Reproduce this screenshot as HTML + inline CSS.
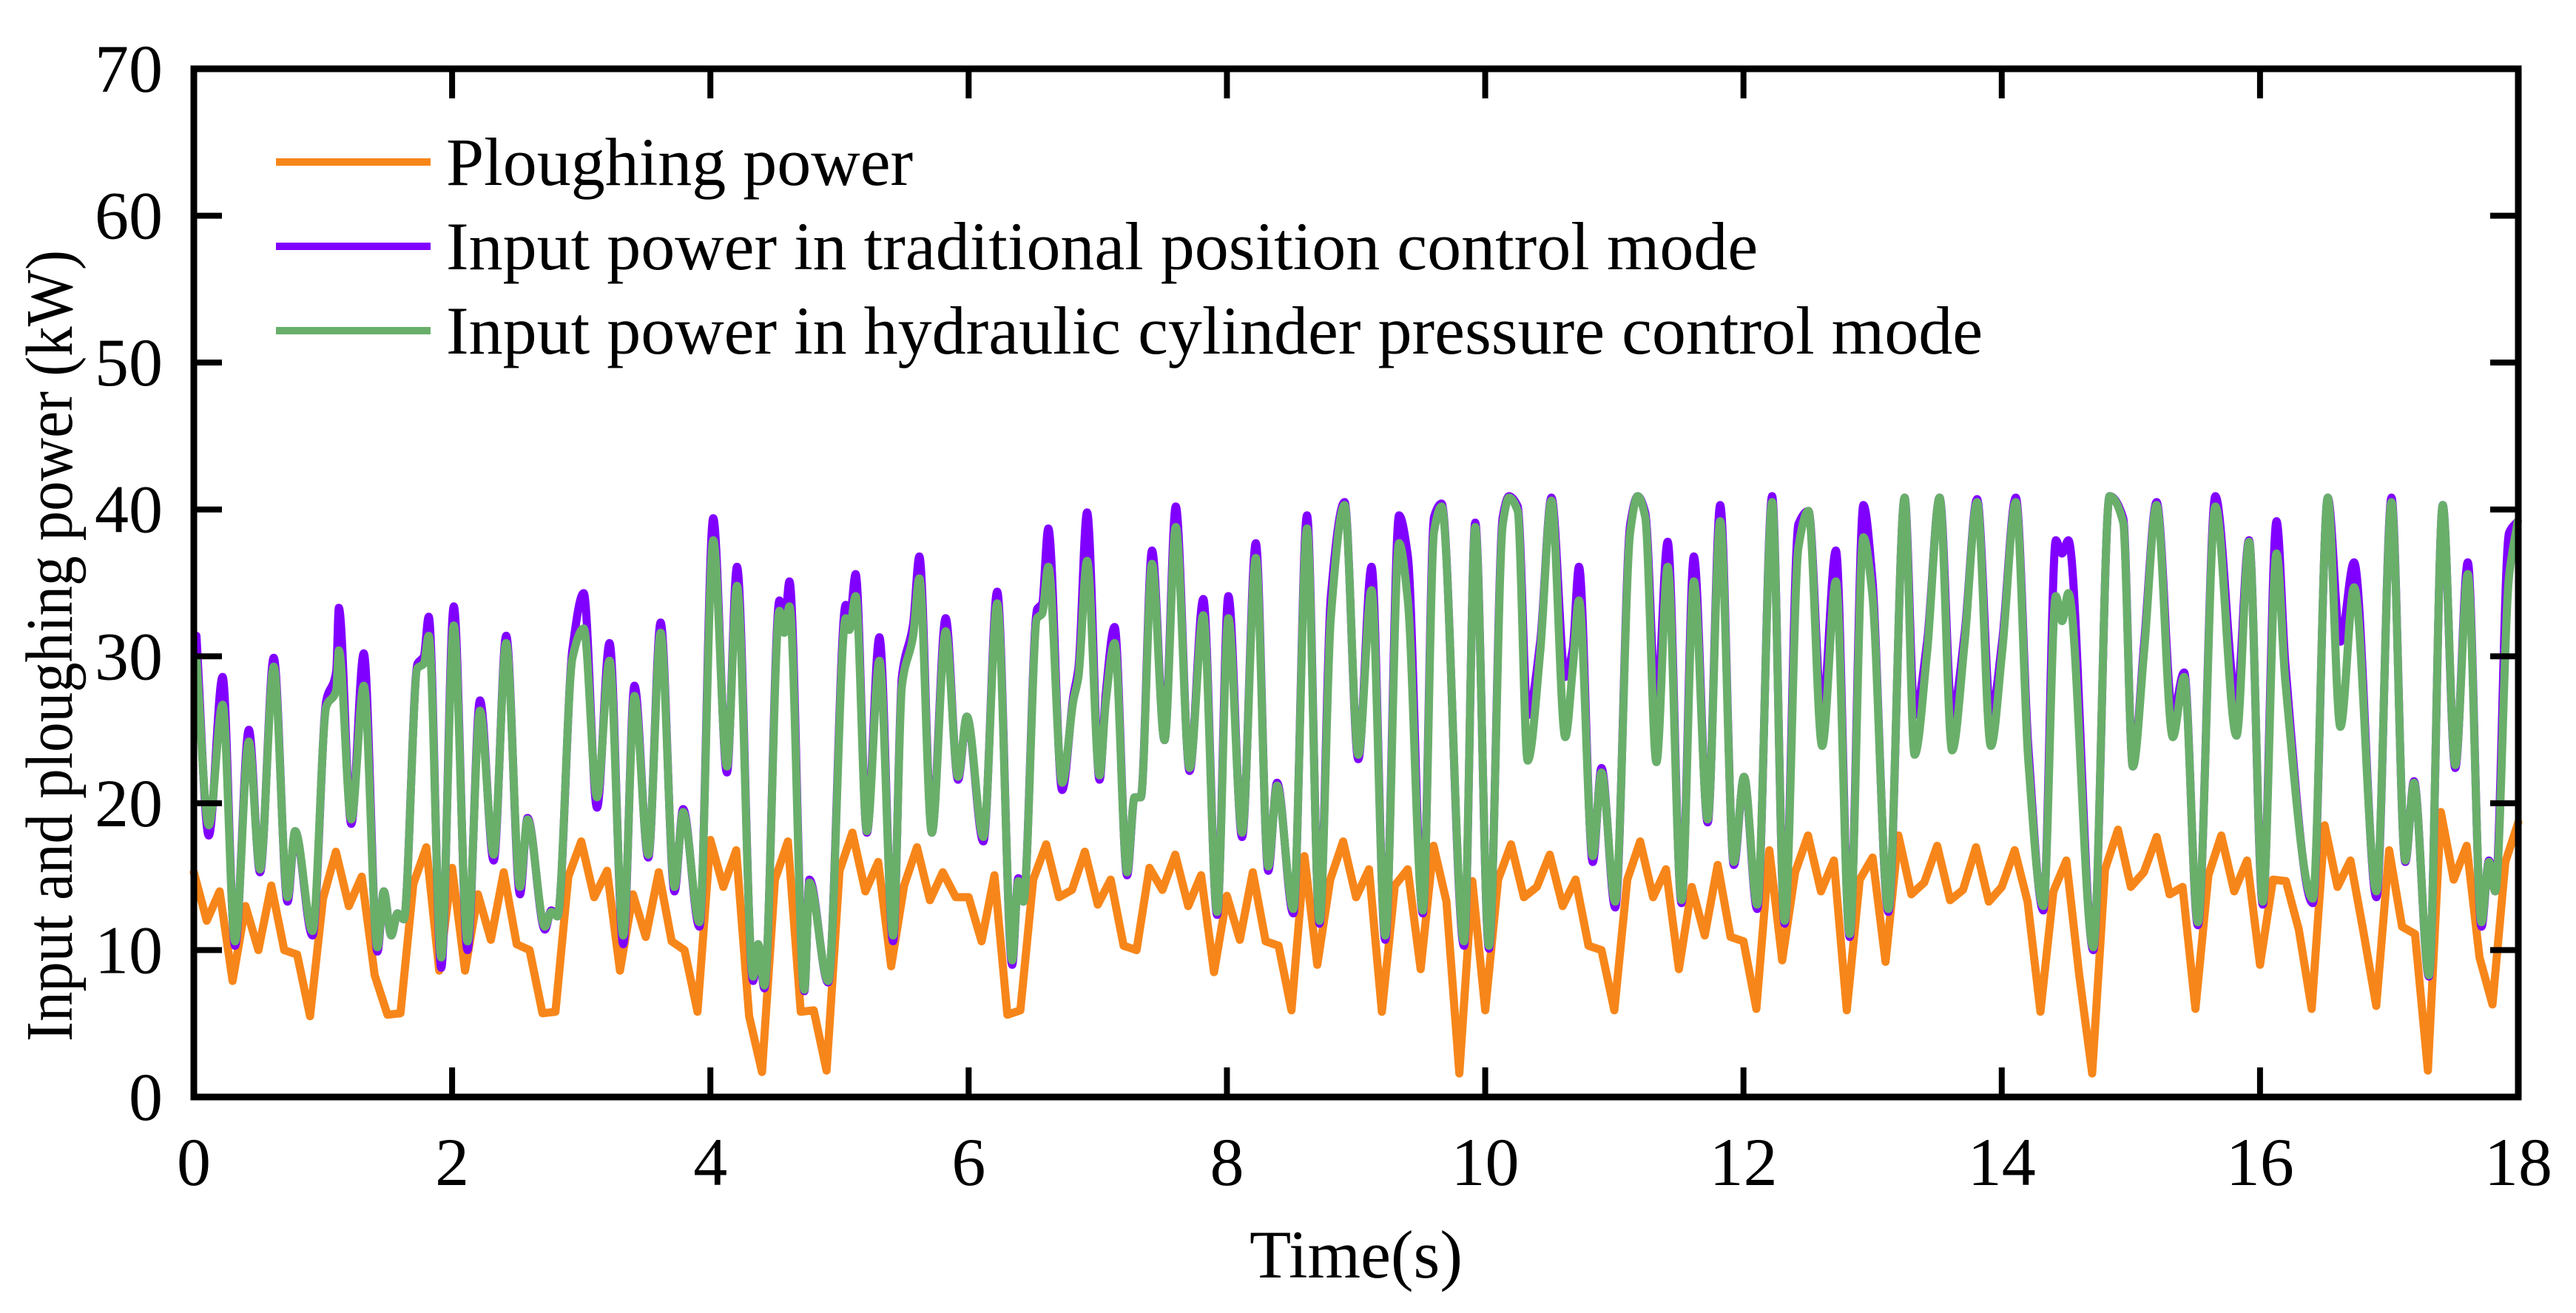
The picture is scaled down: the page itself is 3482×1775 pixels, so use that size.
<!DOCTYPE html>
<html><head><meta charset="utf-8">
<style>
html,body{margin:0;padding:0;background:#fff;}
svg{display:block;font-family:"Liberation Serif","Times New Roman",serif;}
</style></head>
<body>
<svg id="chart" width="3482" height="1775" viewBox="0 0 3482 1775" xmlns="http://www.w3.org/2000/svg">
  <rect x="0" y="0" width="3482" height="1775" fill="#fff"/>
  <g id="series"></g>
  <g id="axes"></g>
  <text x="1833" y="1727" font-size="92" text-anchor="middle">Time(s)</text>
  <text transform="translate(97,873) rotate(-90)" font-size="90" text-anchor="middle" textLength="1070" lengthAdjust="spacingAndGlyphs">Input and ploughing power (kW)</text>
  <g>
    <g>
      <line x1="373" y1="219" x2="582" y2="219" stroke="#F7861A" stroke-width="10"/>
      <text x="603" y="250" font-size="92">Ploughing power</text>
    </g>
    <g>
      <line x1="373" y1="333" x2="582" y2="333" stroke="#8000FF" stroke-width="10"/>
      <text x="603" y="364" font-size="92">Input power in traditional position control mode</text>
    </g>
    <g>
      <line x1="373" y1="447" x2="582" y2="447" stroke="#69AF6A" stroke-width="10"/>
      <text x="603" y="478" font-size="92">Input power in hydraulic cylinder pressure control mode</text>
    </g>
  </g>
</svg>
<script>
const xTicks = [0,2,4,6,8,10,12,14,16,18];
const yTicks = [0,10,20,30,40,50,60,70];
// Ploughing power sampled every 0.1 s from 0 to 18 s
const ploughStep = 0.1;
const ploughValues = [
15.3,12.0,14.0,7.9,13.0,10.0,14.4,10.0,9.7,5.5,13.5,16.7,13.0,15.0,8.3,5.6,5.7,14.5,17.0,8.6,15.6,8.6,13.8,10.7,15.3,10.4,10.0,5.7,5.8,15.0,17.4,
13.6,15.4,8.6,13.8,10.9,15.3,10.6,10.0,5.8,17.5,14.3,16.8,5.5,1.7,14.8,17.4,5.8,5.9,1.8,15.4,18.0,14.0,16.0,8.9,14.4,17.0,13.4,15.3,13.6,13.6,
10.6,15.1,5.6,5.9,14.8,17.2,13.6,14.1,16.7,13.1,14.8,10.3,10.0,15.6,14.1,16.5,13.0,15.1,8.5,13.7,10.7,15.3,10.6,10.3,5.9,16.4,9.0,14.8,17.4,13.6,
15.5,5.8,14.4,15.5,8.7,17.1,13.3,1.6,14.7,5.9,14.8,17.2,13.6,14.3,16.5,13.0,14.8,10.3,10.0,5.9,14.8,17.4,13.6,15.5,8.7,14.3,11.0,15.8,10.9,10.6,
6.0,16.8,9.3,15.3,17.8,14.0,16.1,5.9,14.8,16.3,9.2,17.8,13.8,14.6,17.1,13.4,14.1,17.0,13.3,14.3,16.8,13.3,5.8,14.0,16.1,8.3,1.6,15.5,18.2,14.3,
15.3,17.7,13.8,14.3,6.0,15.1,17.8,14.0,16.1,9.0,14.8,14.7,11.4,6.0,18.5,14.3,16.1,11.3,6.2,16.8,11.6,11.1,1.8,19.4,14.8,17.1,9.5,6.3,16.0,18.7
];
// Input power curves: sample times (s) and values (kW)
const inputTimes = [
0.02,0.116,0.223,0.319,0.426,0.513,0.619,0.726,0.784,0.919,1.026,1.103,1.123,1.219,1.316,1.422,1.471,1.529,1.577,1.626,1.732,1.781,1.819,1.916,2.013,2.119,2.216,2.322,2.419,2.526,2.584,2.719,2.768,2.816,2.932,3.019,
3.122,3.219,3.325,3.412,3.519,3.615,3.722,3.789,3.915,4.022,4.128,4.206,4.331,4.370,4.418,4.535,4.573,4.612,4.728,4.767,4.912,5.048,5.077,5.125,5.212,5.309,5.415,5.483,5.570,5.618,5.715,5.822,5.918,5.986,
6.114,6.221,6.337,6.385,6.424,6.530,6.569,6.617,6.724,6.811,6.850,6.917,7.014,7.062,7.130,7.227,7.285,7.333,7.420,7.517,7.604,7.711,7.817,7.924,8.011,8.117,8.224,8.320,8.388,8.514,8.620,8.717,8.804,8.911,9.017,
9.120,9.226,9.333,9.400,9.517,9.604,9.662,9.836,9.923,10.029,10.136,10.184,10.252,10.329,10.426,10.513,10.620,10.678,10.726,10.833,10.900,11.007,11.123,11.181,11.239,11.326,11.413,11.520,11.616,11.723,11.820,11.926,12.004,
12.106,12.222,12.319,12.425,12.503,12.609,12.716,12.822,12.929,12.996,13.122,13.248,13.325,13.422,13.519,13.616,13.712,13.809,13.916,14.003,14.109,14.206,14.322,14.419,14.467,14.516,14.709,14.835,14.941,
15.015,15.102,15.199,15.325,15.412,15.518,15.654,15.818,15.915,16.021,16.128,16.196,16.409,16.525,16.622,16.728,16.902,17.018,17.125,17.192,17.308,17.415,17.512,17.609,17.715,17.773,17.821,17.928,17.996
];
const hydraulicValues = [
29.9,18.5,26.7,10.6,24.2,15.5,29.3,13.6,18.1,11.3,26.6,27.7,30.4,18.9,28.0,10.2,14.0,11.0,12.5,12.1,29.2,29.5,31.4,9.5,32.1,10.6,26.3,16.5,30.9,14.3,18.9,11.6,12.6,12.3,29.9,31.9,
20.4,29.7,11.0,27.3,16.5,31.6,14.3,19.4,11.9,37.9,22.5,34.8,8.2,10.4,7.6,33.1,31.6,33.4,7.3,14.6,7.9,32.6,31.8,34.1,18.1,29.7,11.0,28.0,31.4,35.3,18.0,31.7,21.8,25.9,
17.7,33.6,9.3,14.7,13.3,32.6,32.9,36.1,21.4,27.0,28.6,36.5,21.9,26.9,30.9,15.3,20.4,20.4,36.3,24.3,38.8,22.4,32.8,12.6,32.6,18.0,36.7,15.7,21.2,12.8,38.7,12.0,32.6,40.3,23.3,
34.5,11.0,37.7,33.9,12.7,38.5,40.2,10.6,38.8,10.3,39.0,40.8,39.9,22.9,30.3,40.6,24.5,29.2,33.8,16.4,22.1,13.3,38.5,40.9,39.5,22.8,36.1,13.4,35.1,18.9,39.2,16.0,21.8,
13.1,40.5,12.0,37.4,39.9,23.9,35.1,11.1,38.1,34.4,12.8,40.8,23.3,30.3,40.8,23.6,30.9,40.5,23.9,30.3,40.5,22.9,13.0,34.1,32.4,34.3,10.2,40.9,39.1,
22.5,30.3,40.3,24.5,28.6,11.9,40.2,24.6,37.8,13.3,37.0,28.3,13.5,40.8,25.2,34.7,14.0,40.5,16.1,21.4,8.3,40.3,22.6,35.6,11.9,16.0,14.0,35.4,39.2
];
const traditionalValues = [
31.4,17.8,28.6,10.3,25.0,15.3,29.9,13.3,18.1,11.0,27.0,29.0,33.3,18.6,30.2,9.9,14.0,11.0,12.5,12.1,29.5,30.0,32.7,8.8,33.4,10.0,27.0,16.1,31.4,13.8,19.0,11.4,12.7,12.3,30.5,34.3,
19.7,30.9,10.4,28.0,16.3,32.3,14.0,19.6,11.6,39.4,22.1,36.1,7.9,10.4,7.4,33.8,32.0,35.1,7.2,14.8,7.8,33.5,32.4,35.6,18.0,31.3,10.6,28.6,32.2,36.8,18.0,32.6,21.6,25.9,
17.4,34.4,9.0,14.9,13.3,33.2,33.6,38.7,20.9,27.3,29.2,39.8,21.6,27.5,32.0,15.1,20.4,20.4,37.2,24.3,40.2,22.2,33.9,12.4,34.1,17.7,37.7,15.4,21.4,12.5,39.6,11.8,34.0,40.5,23.0,
36.1,10.7,39.6,36.9,12.5,39.5,40.4,10.3,39.1,10.1,39.5,40.9,40.2,26.0,31.0,40.8,28.6,30.5,36.1,16.0,22.4,12.9,39.0,40.9,39.8,26.3,37.8,13.2,36.8,18.7,40.3,15.8,21.8,
12.8,40.9,11.8,39.0,39.9,26.0,37.2,10.9,40.3,35.5,12.6,40.8,26.0,31.0,40.8,26.0,31.5,40.7,26.0,31.0,40.8,23.8,12.7,37.9,37.0,37.9,10.0,40.9,39.4,
22.5,30.8,40.5,26.0,28.9,11.7,40.9,26.9,37.9,13.1,39.2,29.5,13.2,40.8,31.0,36.4,13.6,40.8,16.0,21.5,8.2,40.3,22.4,36.4,11.6,16.1,14.0,38.4,39.2
];

const X0 = 262, X1 = 3404, Y0 = 1483, Y1 = 93;
const xMin = 0, xMax = 18, yMin = 0, yMax = 70;
function xs(t){ return X0 + (t - xMin) / (xMax - xMin) * (X1 - X0); }
function ys(v){ return Y0 - (v - yMin) / (yMax - yMin) * (Y0 - Y1); }
const NS = "http://www.w3.org/2000/svg";

function linePath(ts, vs){
  let d = "";
  for (let i = 0; i < ts.length; i++) d += (i ? "L" : "M") + xs(ts[i]).toFixed(1) + "," + ys(vs[i]).toFixed(1);
  return d;
}
function smoothPath(ts, vs){
  const n = ts.length, px = ts.map(xs), py = vs.map(ys);
  const dx = [], m = [], sl = [];
  for (let i = 0; i < n - 1; i++){ dx[i] = px[i+1]-px[i]; sl[i] = (py[i+1]-py[i]) / dx[i]; }
  m[0] = sl[0]; m[n-1] = sl[n-2];
  for (let i = 1; i < n - 1; i++){
    if (sl[i-1] * sl[i] <= 0) m[i] = 0;
    else { const w1 = 2*dx[i] + dx[i-1], w2 = dx[i] + 2*dx[i-1]; m[i] = (w1 + w2) / (w1/sl[i-1] + w2/sl[i]); }
  }
  let d = "M" + px[0].toFixed(1) + "," + py[0].toFixed(1);
  for (let i = 0; i < n - 1; i++){
    const h = dx[i] / 3;
    d += "C" + (px[i]+h).toFixed(1) + "," + (py[i]+m[i]*h).toFixed(1) + " " +
         (px[i+1]-h).toFixed(1) + "," + (py[i+1]-m[i+1]*h).toFixed(1) + " " +
         px[i+1].toFixed(1) + "," + py[i+1].toFixed(1);
  }
  return d;
}

const series = document.getElementById("series");
const ploughTimes = ploughValues.map((v, i) => i * ploughStep);

const pO = document.createElementNS(NS, "path");
pO.setAttribute("d", linePath(ploughTimes, ploughValues));
pO.setAttribute("fill", "none"); pO.setAttribute("stroke", "#F7861A");
pO.setAttribute("stroke-width", "11"); pO.setAttribute("stroke-linejoin", "round"); pO.setAttribute("stroke-linecap", "round");


series.appendChild(pO);

const pP = document.createElementNS(NS, "path");
pP.setAttribute("d", smoothPath(inputTimes, traditionalValues));
pP.setAttribute("fill", "none"); pP.setAttribute("stroke", "#8000FF");
pP.setAttribute("stroke-width", "11"); pP.setAttribute("stroke-linejoin", "round"); pP.setAttribute("stroke-linecap", "round");


series.appendChild(pP);

const pG = document.createElementNS(NS, "path");
pG.setAttribute("d", smoothPath(inputTimes, hydraulicValues));
pG.setAttribute("fill", "none"); pG.setAttribute("stroke", "#69AF6A");
pG.setAttribute("stroke-width", "11"); pG.setAttribute("stroke-linejoin", "round"); pG.setAttribute("stroke-linecap", "round");


series.appendChild(pG);

const axes = document.getElementById("axes");
const frame = document.createElementNS(NS, "rect");
frame.setAttribute("x", X0); frame.setAttribute("y", Y1);
frame.setAttribute("width", X1 - X0); frame.setAttribute("height", Y0 - Y1);
frame.setAttribute("fill", "none"); frame.setAttribute("stroke", "#000"); frame.setAttribute("stroke-width", "9");


axes.appendChild(frame);

xTicks.forEach(t => {
  const x = xs(t);
  [[Y0, Y0 - 40], [Y1, Y1 + 40]].forEach(([a, b]) => {
    const l = document.createElementNS(NS, "line");
    l.setAttribute("x1", x); l.setAttribute("x2", x); l.setAttribute("y1", a); l.setAttribute("y2", b);
    l.setAttribute("stroke", "#000"); l.setAttribute("stroke-width", "8");
    
    
    axes.appendChild(l);
  });
  const tx = document.createElementNS(NS, "text");
  tx.setAttribute("x", x); tx.setAttribute("y", 1602);
  tx.setAttribute("font-size", "92"); tx.setAttribute("text-anchor", "middle");
  tx.textContent = String(t);
  
  
  axes.appendChild(tx);
});
yTicks.forEach(v => {
  const y = ys(v);
  [[X0, X0 + 38], [X1, X1 - 38]].forEach(([a, b]) => {
    const l = document.createElementNS(NS, "line");
    l.setAttribute("x1", a); l.setAttribute("x2", b); l.setAttribute("y1", y); l.setAttribute("y2", y);
    l.setAttribute("stroke", "#000"); l.setAttribute("stroke-width", "8");
    
    
    axes.appendChild(l);
  });
  const tx = document.createElementNS(NS, "text");
  tx.setAttribute("x", 220); tx.setAttribute("y", y + 31);
  tx.setAttribute("font-size", "92"); tx.setAttribute("text-anchor", "end");
  tx.textContent = String(v);
  
  
  axes.appendChild(tx);
});
</script>
</body></html>
